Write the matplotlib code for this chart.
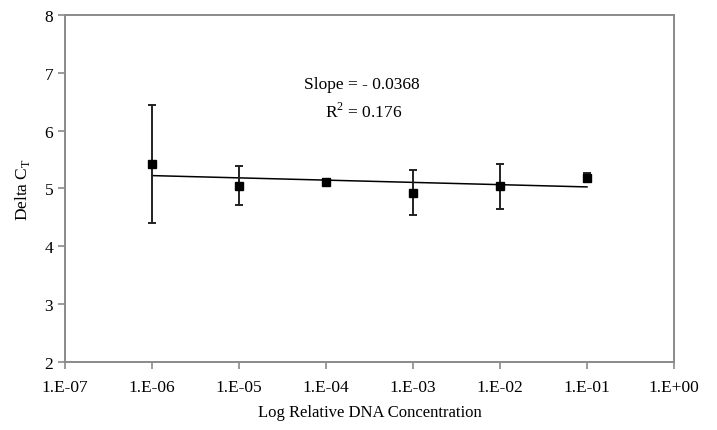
import numpy as np
import matplotlib
matplotlib.use('Agg')
import matplotlib.pyplot as plt
from matplotlib.ticker import FixedLocator, FuncFormatter

plt.rcParams['font.family'] = ['Liberation Serif', 'DejaVu Serif']
plt.rcParams['mathtext.fontset'] = 'custom'
plt.rcParams['mathtext.rm'] = 'Liberation Serif'

conc = [1e-6, 1e-5, 1e-4, 1e-3, 1e-2, 1e-1]
delta_ct = [5.42, 5.05, 5.12, 4.93, 5.04, 5.19]
err = [1.02, 0.34, 0.05, 0.39, 0.39, 0.08]
xticks = [1e-7, 1e-6, 1e-5, 1e-4, 1e-3, 1e-2, 1e-1, 1e0]
slope_text = 'Slope = - 0.0368'
r2_text = 'R$^2$ = 0.176'

fig = plt.figure(figsize=(7.17, 4.31), dpi=100)
ax = fig.add_axes([0.0907, 0.1578, 0.8493, 0.8051])

ax.errorbar(conc, delta_ct, yerr=err, fmt='s', color='black', ms=5.5,
            ecolor='#222222', elinewidth=1.4, capsize=3.2, capthick=1.4, zorder=3)

# log-linear trend line fitted to the points
lx = np.log10(conc)
m, b = np.polyfit(lx, delta_ct, 1)
ax.plot(conc, m * lx + b, color='black', lw=1.1, zorder=2)

ax.set_xscale('log')
ax.set_xlim(1e-7, 1e0)
ax.set_ylim(2, 8)
ax.xaxis.set_major_locator(FixedLocator(xticks))
ax.xaxis.set_minor_locator(FixedLocator([]))
ax.xaxis.set_major_formatter(FuncFormatter(lambda v, p: '1.E%+03d' % round(np.log10(v))))
ax.set_yticks(range(2, 9))

for s in ax.spines.values():
    s.set_color('#8a8a8a')
    s.set_linewidth(1.4)
ax.tick_params(axis='both', direction='out', color='#8a8a8a', width=1.2, length=5,
               labelsize=12.5, labelcolor='black')
ax.tick_params(axis='x', pad=7)

ax.set_xlabel('Log Relative DNA Concentration', fontsize=12, labelpad=7)
ax.set_ylabel('Delta C$_\\mathrm{T}$', fontsize=12.5, labelpad=9)

ax.text(0.488, 0.80, slope_text, transform=ax.transAxes, ha='center', va='center', fontsize=12.5)
ax.text(0.49, 0.722, r2_text, transform=ax.transAxes, ha='center', va='center', fontsize=12.5)

fig.savefig('out.png', dpi=100)
